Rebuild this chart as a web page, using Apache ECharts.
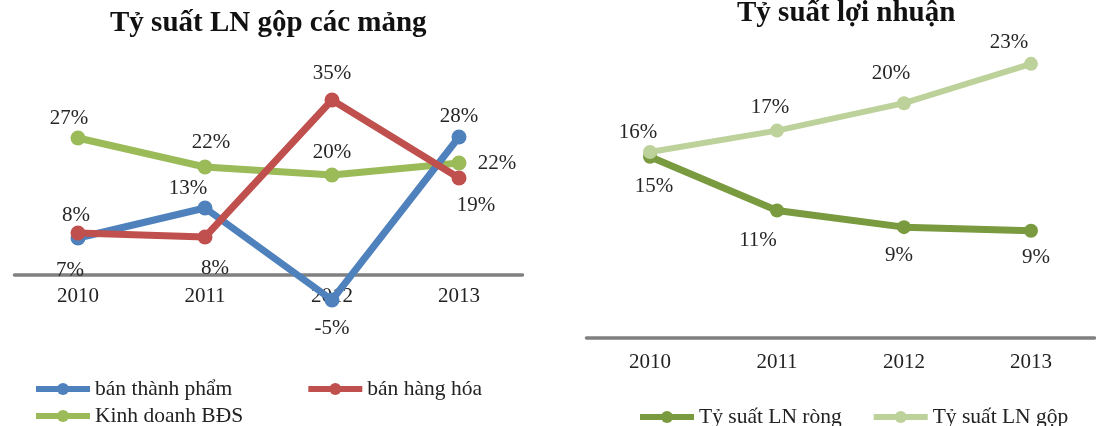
<!DOCTYPE html>
<html>
<head>
<meta charset="utf-8">
<script src="https://cdn.jsdelivr.net/npm/echarts@6/dist/echarts.min.js"></script>
<style>
html,body{margin:0;padding:0;background:#fff;}
#chart{width:1096px;height:426px;}
</style>
</head>
<body>
<div id="chart"></div>
<script>
// ---- Data ----
var years = ['2010', '2011', '2012', '2013'];

var leftTitle = 'Tỷ suất LN gộp các mảng';
var leftNames = ['bán thành phẩm', 'bán hàng hóa', 'Kinh doanh BĐS'];
var banThanhPham = [7.4, 13.4, -5.0, 27.6];
var banHangHoa = [8.4, 7.6, 35.0, 19.4];
var kinhDoanhBDS = [27.4, 21.6, 20.0, 22.4];

var rightTitle = 'Tỷ suất lợi nhuận';
var rightNames = ['Tỷ suất LN ròng', 'Tỷ suất LN gộp'];
var lnRong = [15.2, 10.7, 9.3, 9.0];
var lnGop = [15.6, 17.4, 19.7, 23.0];

// ---- Styling / layout ----
var serif = 'Liberation Serif';
var colors = {
  blue: '#4F81BD', red: '#C0504D', green: '#9BBB59',
  dark: '#7A9A40', light: '#BDD19B'
};
// label offsets (center of label relative to the point)
var offs = {
  blue: [[-8, 32], [-17, -20], [0, 28], [0, -21]],
  red: [[-2, -18], [10, 31], [0, -27], [17, 27]],
  green: [[-9, -20], [6, -25], [0, -23], [38, 0]],
  dark: [[4, 30], [-19, 30], [-5, 28], [5, 27]],
  light: [[-12, -20], [-7, -23], [-13, -30], [-22, -21]]
};

function pct(p) { return Math.round(p.value) + '%'; }

function mkSeries(name, values, color, key, gi, lw, sym) {
  return {
    name: name,
    type: 'line',
    xAxisIndex: gi,
    yAxisIndex: gi,
    data: values.map(function (v, i) {
      return {
        value: v,
        label: { offset: offs[key][i] }
      };
    }),
    symbol: 'circle',
    symbolSize: sym,
    lineStyle: { color: color, width: lw },
    itemStyle: { color: color },
    label: {
      show: true,
      position: 'inside',
      align: 'center',
      verticalAlign: 'middle',
      formatter: pct,
      fontFamily: serif,
      fontSize: 21,
      color: '#262626'
    },
    emphasis: { disabled: true },
    animation: false,
    z: 3
  };
}

var axisLabelStyle = { fontFamily: serif, fontSize: 21, color: '#222' };
var legendBase = {
  padding: 0, itemWidth: 54, itemHeight: 15,
  lineStyle: { width: 6 },
  textStyle: { fontFamily: serif, fontSize: 21.5, color: '#222' }
};

var option = {
  backgroundColor: '#fff',
  animation: false,
  title: [
    {
      text: leftTitle, left: 110, top: 9, padding: 0,
      textStyle: { fontFamily: serif, fontSize: 29, fontWeight: 'bold', color: '#111' }
    },
    {
      text: rightTitle, left: 737, top: -1, padding: 0,
      textStyle: { fontFamily: serif, fontSize: 29, fontWeight: 'bold', color: '#111' }
    }
  ],
  legend: [
    Object.assign({}, legendBase, { data: [leftNames[0], leftNames[1]], left: 33, top: 378, itemGap: 73 }),
    Object.assign({}, legendBase, { data: [leftNames[2]], left: 33, top: 405 }),
    Object.assign({}, legendBase, { data: rightNames, left: 637, top: 406, itemGap: 29 })
  ],
  grid: [
    { left: 14.5, width: 508, top: 75, bottom: 101 },
    { left: 586.5, width: 508, top: 40, bottom: 88 }
  ],
  xAxis: [
    {
      type: 'category', gridIndex: 0, data: years,
      offset: -50,
      axisLine: { onZero: false, lineStyle: { color: '#808080', width: 3.5 } },
      axisTick: { show: false },
      axisLabel: Object.assign({ margin: 11 }, axisLabelStyle),
      z: 1
    },
    {
      type: 'category', gridIndex: 1, data: years,
      axisLine: { onZero: false, lineStyle: { color: '#808080', width: 3.5 } },
      axisTick: { show: false },
      axisLabel: Object.assign({ margin: 14 }, axisLabelStyle),
      z: 1
    }
  ],
  yAxis: [
    {
      type: 'value', gridIndex: 0, min: -10, max: 40,
      axisLine: { show: false }, axisTick: { show: false },
      axisLabel: { show: false }, splitLine: { show: false }
    },
    {
      type: 'value', gridIndex: 1, min: 0, max: 25,
      axisLine: { show: false }, axisTick: { show: false },
      axisLabel: { show: false }, splitLine: { show: false }
    }
  ],
  series: [
    mkSeries(leftNames[2], kinhDoanhBDS, colors.green, 'green', 0, 7, 15),
    mkSeries(leftNames[0], banThanhPham, colors.blue, 'blue', 0, 7, 15),
    mkSeries(leftNames[1], banHangHoa, colors.red, 'red', 0, 7, 15),
    mkSeries(rightNames[0], lnRong, colors.dark, 'dark', 1, 7, 14),
    mkSeries(rightNames[1], lnGop, colors.light, 'light', 1, 6, 14)
  ]
};

var chart = echarts.init(document.getElementById('chart'), null, { renderer: 'canvas' });
chart.setOption(option);
</script>
</body>
</html>
